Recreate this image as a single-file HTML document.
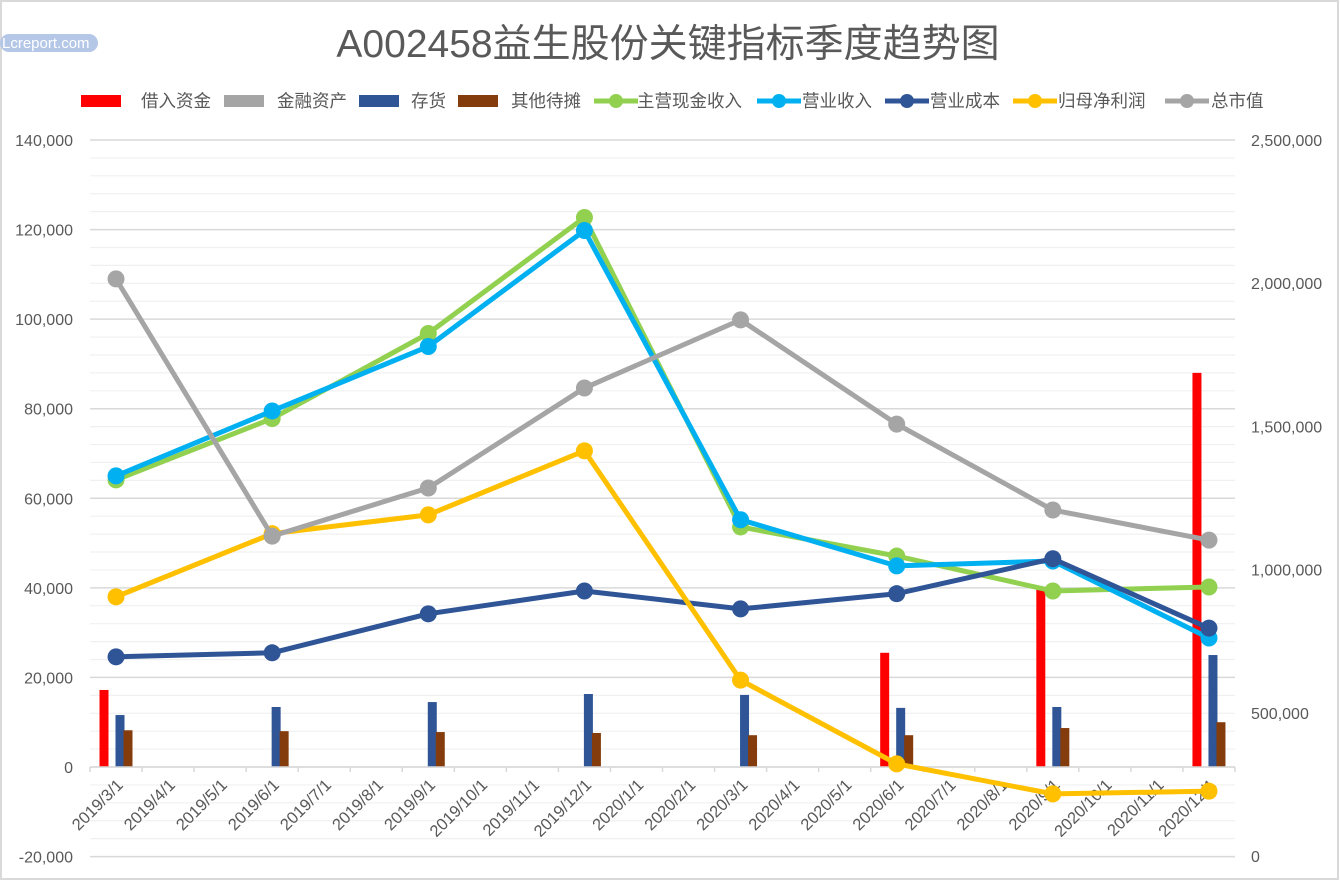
<!DOCTYPE html>
<html><head><meta charset="utf-8">
<style>
html,body{margin:0;padding:0;background:#fff;}
body{width:1340px;height:881px;overflow:hidden;font-family:"Liberation Sans","Noto Sans CJK SC",sans-serif;}
svg text{font-family:"Liberation Sans","Noto Sans CJK SC",sans-serif;}
</style></head>
<body>
<svg id="chart" width="1340" height="881" xmlns="http://www.w3.org/2000/svg">
<rect x="1" y="1" width="1337" height="878" fill="#fff" stroke="#d9d9d9" stroke-width="2"/>
<g>
<rect x="0" y="34" width="98" height="18" rx="9" fill="#b4c7e7"/>
<text x="2" y="48" font-size="15" fill="#fff">Lcreport.com</text>
</g>
<text x="668" y="57" text-anchor="middle" font-size="39" fill="#595959">A002458益生股份关键指标季度趋势图</text>
<g id="grid"></g>
<g id="bars"></g>
<g id="axes"></g>
<g id="lines"></g>
<g id="legend"></g>
</svg>
<script>
const categories=["2019/3/1","2019/6/1","2019/9/1","2019/12/1","2020/3/1","2020/6/1","2020/9/1","2020/12/1"];
const monthIdx=[0,3,6,9,12,15,18,21];
const monthLabels=["2019/3/1","2019/4/1","2019/5/1","2019/6/1","2019/7/1","2019/8/1","2019/9/1","2019/10/1","2019/11/1","2019/12/1","2020/1/1","2020/2/1","2020/3/1","2020/4/1","2020/5/1","2020/6/1","2020/7/1","2020/8/1","2020/9/1","2020/10/1","2020/11/1","2020/12/1"];
const borrow=[17200,0,0,0,0,25500,40200,88000];
const finAsset=[0,0,0,0,0,0,0,0];
const inventory=[11600,13400,14500,16300,16100,13200,13400,25000];
const otherPrepaid=[8200,8000,7800,7600,7100,7100,8700,10000];
const cashIncome=[64100,77800,96800,122700,53600,47100,39300,40200];
const revenue=[65000,79500,93900,119800,55200,44900,46000,28800];
const cost=[24600,25500,34200,39300,35300,38700,46500,31000];
const netProfit=[38000,52100,56300,70600,19400,700,-6000,-5400];
const marketCap=[2015000,1117000,1285000,1634000,1872000,1508000,1208000,1103000];
const leftTicks=[-20000,0,20000,40000,60000,80000,100000,120000,140000];
const rightTicks=[0,500000,1000000,1500000,2000000,2500000];

const NS="http://www.w3.org/2000/svg";
const X0=90,X1=1235,TOP=140,BOT=856;
const step=(X1-X0)/22;
function yL(v){return 767-(v)*(767-140)/140000;}
function yR(v){return BOT-v*(BOT-TOP)/2500000;}
function tickX(m){return X0+m*step;}
function ptX(i){return tickX(monthIdx[i])+step/2;}
function mk(tag,attrs,parent){const e=document.createElementNS(NS,tag);for(const k in attrs)e.setAttribute(k,attrs[k]);parent.appendChild(e);return e;}
const fmt=v=>v.toLocaleString('en-US');
const grid=document.getElementById('grid'),axes=document.getElementById('axes'),bars=document.getElementById('bars'),lines=document.getElementById('lines'),legend=document.getElementById('legend');

for(let v=-20000;v<=140000;v+=4000){
  const major=v%20000===0;
  const l=mk('line',{x1:X0,x2:X1,y1:yL(v),y2:yL(v),stroke:major?'#d9d9d9':'#f0f0f0','stroke-width':major?1.5:1.2},grid);
  
  
}
leftTicks.forEach(v=>{
  const t=mk('text',{x:73,y:yL(v)+6,'text-anchor':'end','font-size':16,fill:'#595959'},axes);
  t.textContent=fmt(v);
  
  
});
rightTicks.forEach(v=>{
  const t=mk('text',{x:1251,y:yR(v)+6,'font-size':16,fill:'#595959'},axes);
  t.textContent=fmt(v);
  
  
});
const xa=mk('line',{x1:X0,x2:X1,y1:yL(0),y2:yL(0),stroke:'#d9d9d9','stroke-width':1.5},axes);


for(let m=0;m<=22;m++){
  const tk=mk('line',{x1:tickX(m),x2:tickX(m),y1:yL(0),y2:yL(0)+5,stroke:'#d9d9d9','stroke-width':1.5},axes);
  
  
}
monthLabels.forEach((s,m)=>{
  const x=tickX(m)+step/2+8,y=yL(0)+19;
  const t=mk('text',{x:x,y:y,'text-anchor':'end','font-size':16.5,fill:'#595959',transform:`rotate(-45 ${x} ${y})`},axes);
  t.textContent=s;
  
  
});

const barSeries=[[borrow,'#ff0000',14,'bar-borrowed-funds'],[finAsset,'#a5a5a5',22,'bar-financial-assets'],[inventory,'#2f5597',30,'bar-inventory'],[otherPrepaid,'#843c0c',38,'bar-other-prepaid']];
barSeries.forEach(([arr,c,off,name])=>{
  arr.forEach((v,i)=>{
    if(!v)return;
    const cx=tickX(monthIdx[i])+off;
    const y=Math.min(yL(v),yL(0)),h=Math.abs(yL(v)-yL(0));
    const r=mk('rect',{x:cx-4.5,y:y,width:9,height:h,fill:c},bars);
    
    
  });
});

const lineSeries=[[cashIncome,'#92d050',yL,'line-main-cash-income'],[revenue,'#00b0f0',yL,'line-revenue'],[cost,'#2f5597',yL,'line-operating-cost'],[netProfit,'#ffc000',yL,'line-net-profit'],[marketCap,'#a5a5a5',yR,'line-market-cap']];
lineSeries.forEach(([arr,c,f,name])=>{
  const g=mk('g',{},lines);
  
  
  const pts=arr.map((v,i)=>ptX(i)+','+f(v)).join(' ');
  mk('polyline',{points:pts,fill:'none',stroke:c,'stroke-width':5,'stroke-linejoin':'round'},g);
  arr.forEach((v,i)=>{
    const p=mk('circle',{cx:ptX(i),cy:f(v),r:8.5,fill:c},g);
    
    
  });
});

const legendItems=[['借入资金','#ff0000','bar',81,141],['金融资产','#a5a5a5','bar',224,277],['存货','#2f5597','bar',359,411],['其他待摊','#843c0c','bar',458,511],['主营现金收入','#92d050','line',594,637],['营业收入','#00b0f0','line',757,802],['营业成本','#2f5597','line',885,930],['归母净利润','#ffc000','line',1013,1058],['总市值','#a5a5a5','line',1165,1211]];
legendItems.forEach(([label,c,type,x,tx])=>{
  const g=mk('g',{},legend);
  
  
  if(type==='bar'){mk('rect',{x:x,y:95,width:40,height:12,fill:c},g);}
  else{mk('line',{x1:x,x2:x+44,y1:101,y2:101,stroke:c,'stroke-width':5},g);mk('circle',{cx:x+22,cy:101,r:7,fill:c},g);}
  const t=mk('text',{x:tx,y:107,'font-size':17.5,fill:'#595959'},g);
  t.textContent=label;
});
</script>
</body></html>
